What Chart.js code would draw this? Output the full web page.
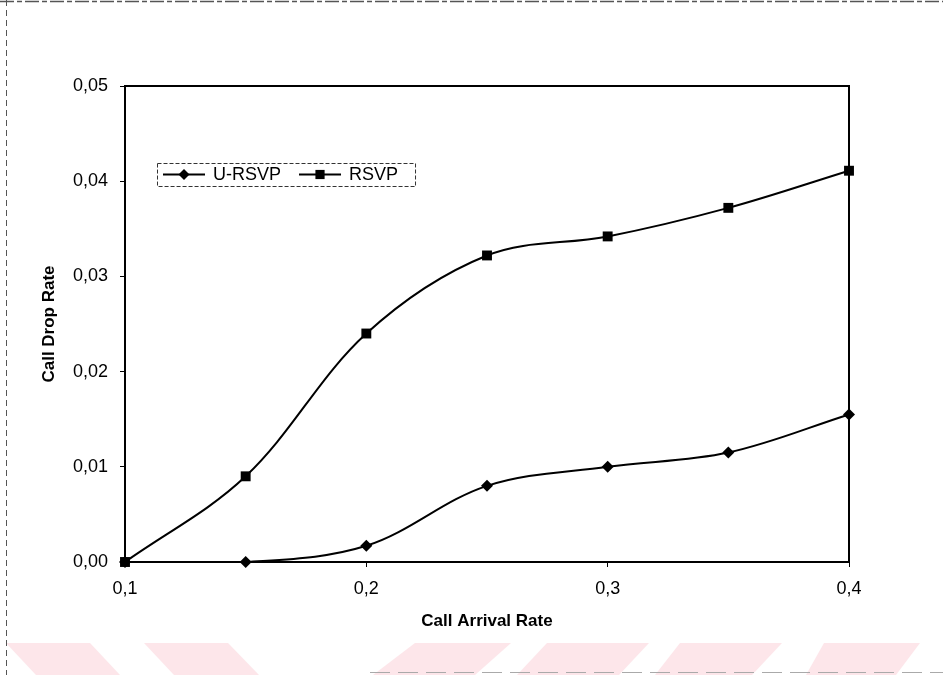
<!DOCTYPE html>
<html>
<head>
<meta charset="utf-8">
<script src="https://cdn.jsdelivr.net/npm/chart.js@4.4.0/dist/chart.umd.min.js"></script>
<style>
  html, body { margin: 0; padding: 0; background: #fff; }
  #wrap { width: 943px; height: 675px; }
</style>
</head>
<body>
<div id="wrap"><canvas id="dropChart" width="943" height="675"></canvas></div>
<script>
// data
const arrivalRates = [0.1, 0.15, 0.2, 0.25, 0.3, 0.35, 0.4];
const uRsvpDrop = [0, 0, 0.0017, 0.008, 0.01, 0.0115, 0.0155];
const rsvpDrop = [0, 0.009, 0.024, 0.0322, 0.0342, 0.0372, 0.0411];
const seriesNames = ['U-RSVP', 'RSVP'];
const xTickValues = [0.1, 0.2, 0.3, 0.4];
const yTickValues = [0, 0.01, 0.02, 0.03, 0.04, 0.05];

const FONT = '"Liberation Sans", Arial, sans-serif';

function toPoints(values) {
    return arrivalRates.map((x, i) => ({ x: x, y: values[i] }));
}

function commaNum(v, digits) {
    return v.toFixed(digits).replace('.', ',');
}

// page decoration: scan frame + pink stripes at the bottom
const paperPlugin = {
    id: 'paper',
    beforeDraw(chart) {
        const ctx = chart.ctx;
        ctx.save();
        ctx.fillStyle = '#fff';
        ctx.fillRect(0, 0, chart.width, chart.height);

        ctx.fillStyle = '#fde6ea';
        const stripes = [
            [[6, 643], [90, 643], [120, 675], [36, 675]],
            [[144, 643], [228, 643], [259, 675], [174, 675]],
            [[415, 643], [511, 643], [475, 675], [373, 675]],
            [[547, 643], [649, 643], [619, 675], [517, 675]],
            [[680, 643], [782, 643], [752, 675], [655, 675]],
            [[824, 643], [920, 643], [896, 675], [806, 675]]
        ];
        stripes.forEach(p => {
            ctx.beginPath();
            ctx.moveTo(p[0][0], p[0][1]);
            for (let i = 1; i < p.length; i++) ctx.lineTo(p[i][0], p[i][1]);
            ctx.closePath();
            ctx.fill();
        });

        ctx.strokeStyle = '#555';
        ctx.lineWidth = 1.5;
        ctx.setLineDash([14, 3, 5, 3]);
        ctx.beginPath();
        ctx.moveTo(0, 1.5);
        ctx.lineTo(chart.width, 1.5);
        ctx.stroke();

        ctx.lineWidth = 1;
        ctx.setLineDash([6, 4]);
        ctx.beginPath();
        ctx.moveTo(6.5, 0);
        ctx.lineTo(6.5, chart.height);
        ctx.stroke();

        ctx.strokeStyle = '#aaa';
        ctx.setLineDash([20, 8]);
        ctx.beginPath();
        ctx.moveTo(370, 672.5);
        ctx.lineTo(chart.width, 672.5);
        ctx.stroke();
        ctx.restore();
    },
    afterDatasetsDraw(chart) {
        const a = chart.chartArea;
        const ctx = chart.ctx;
        ctx.save();
        ctx.strokeStyle = '#000';
        ctx.lineWidth = 2;
        ctx.strokeRect(a.left, a.top, a.right - a.left, a.bottom - a.top);
        ctx.restore();
    }
};

// Excel-like legend box sitting inside the plot
const boxLegendPlugin = {
    id: 'boxLegend',
    afterDraw(chart) {
        const ctx = chart.ctx;
        const x0 = 157, y0 = 163, h = 23;
        const midY = y0 + h / 2;
        ctx.save();
        ctx.font = '18px ' + FONT;
        ctx.textBaseline = 'middle';

        let x = x0 + 6;
        const sample = 42;
        chart.data.datasets.forEach((ds, i) => {
            ctx.strokeStyle = '#000';
            ctx.lineWidth = 2;
            ctx.beginPath();
            ctx.moveTo(x, midY);
            ctx.lineTo(x + sample, midY);
            ctx.stroke();
            ctx.fillStyle = '#000';
            Chart.helpers.drawPoint(ctx, {
                pointStyle: ds.pointStyle,
                radius: ds.pointRadius - 0.5,
                rotation: 0,
                borderWidth: 0
            }, x + sample / 2, midY);
            x += sample + 8;
            ctx.fillStyle = '#000';
            ctx.fillText(ds.label, x, midY + 1);
            x += ctx.measureText(ds.label).width + 18;
        });

        ctx.strokeStyle = '#333';
        ctx.lineWidth = 1;
        ctx.setLineDash([4, 2]);
        ctx.strokeRect(x0 + 0.5, y0 + 0.5, x - 18 + 17 - x0, h);
        ctx.restore();
    }
};

const ctx = document.getElementById('dropChart').getContext('2d');

new Chart(ctx, {
    type: 'line',
    data: {
        datasets: [
            {
                label: seriesNames[0],
                data: toPoints(uRsvpDrop),
                borderColor: '#000',
                backgroundColor: '#000',
                borderWidth: 2,
                pointStyle: 'rectRot',
                pointRadius: 6,
                pointBorderWidth: 0,
                tension: 0.35,
                clip: false
            },
            {
                label: seriesNames[1],
                data: toPoints(rsvpDrop),
                borderColor: '#000',
                backgroundColor: '#000',
                borderWidth: 2,
                pointStyle: 'rect',
                pointRadius: 7,
                pointBorderWidth: 0,
                tension: 0.35,
                clip: false
            }
        ]
    },
    options: {
        responsive: false,
        animation: false,
        devicePixelRatio: 1,
        layout: { padding: { left: 39, right: 94, top: 86, bottom: 43 } },
        plugins: {
            legend: { display: false },
            tooltip: { enabled: false }
        },
        scales: {
            x: {
                type: 'linear',
                min: arrivalRates[0],
                max: arrivalRates[arrivalRates.length - 1],
                afterBuildTicks: scale => {
                    scale.ticks = xTickValues.map(v => ({ value: v }));
                },
                afterFit: scale => { scale.height = 70; },
                ticks: {
                    color: '#000',
                    font: { family: FONT, size: 18 },
                    padding: 11,
                    maxRotation: 0,
                    callback: v => commaNum(v, 1)
                },
                grid: {
                    drawOnChartArea: false,
                    drawTicks: true,
                    tickLength: 5,
                    color: '#000',
                    lineWidth: 1
                },
                border: { display: false },
                title: {
                    display: true,
                    text: 'Call Arrival Rate',
                    color: '#000',
                    font: { family: FONT, size: 17, weight: 'bold' },
                    padding: 0
                }
            },
            y: {
                min: yTickValues[0],
                max: yTickValues[yTickValues.length - 1],
                afterBuildTicks: scale => {
                    scale.ticks = yTickValues.map(v => ({ value: v }));
                },
                afterFit: scale => { scale.width = 86; },
                ticks: {
                    color: '#000',
                    font: { family: FONT, size: 18 },
                    padding: 12,
                    callback: v => commaNum(v, 2)
                },
                grid: {
                    drawOnChartArea: false,
                    drawTicks: true,
                    tickLength: 5,
                    color: '#000',
                    lineWidth: 1
                },
                border: { display: false },
                title: {
                    display: true,
                    text: 'Call Drop Rate',
                    color: '#000',
                    font: { family: FONT, size: 17, weight: 'bold' },
                    padding: 0
                }
            }
        }
    },
    plugins: [paperPlugin, boxLegendPlugin]
});
</script>
</body>
</html>
